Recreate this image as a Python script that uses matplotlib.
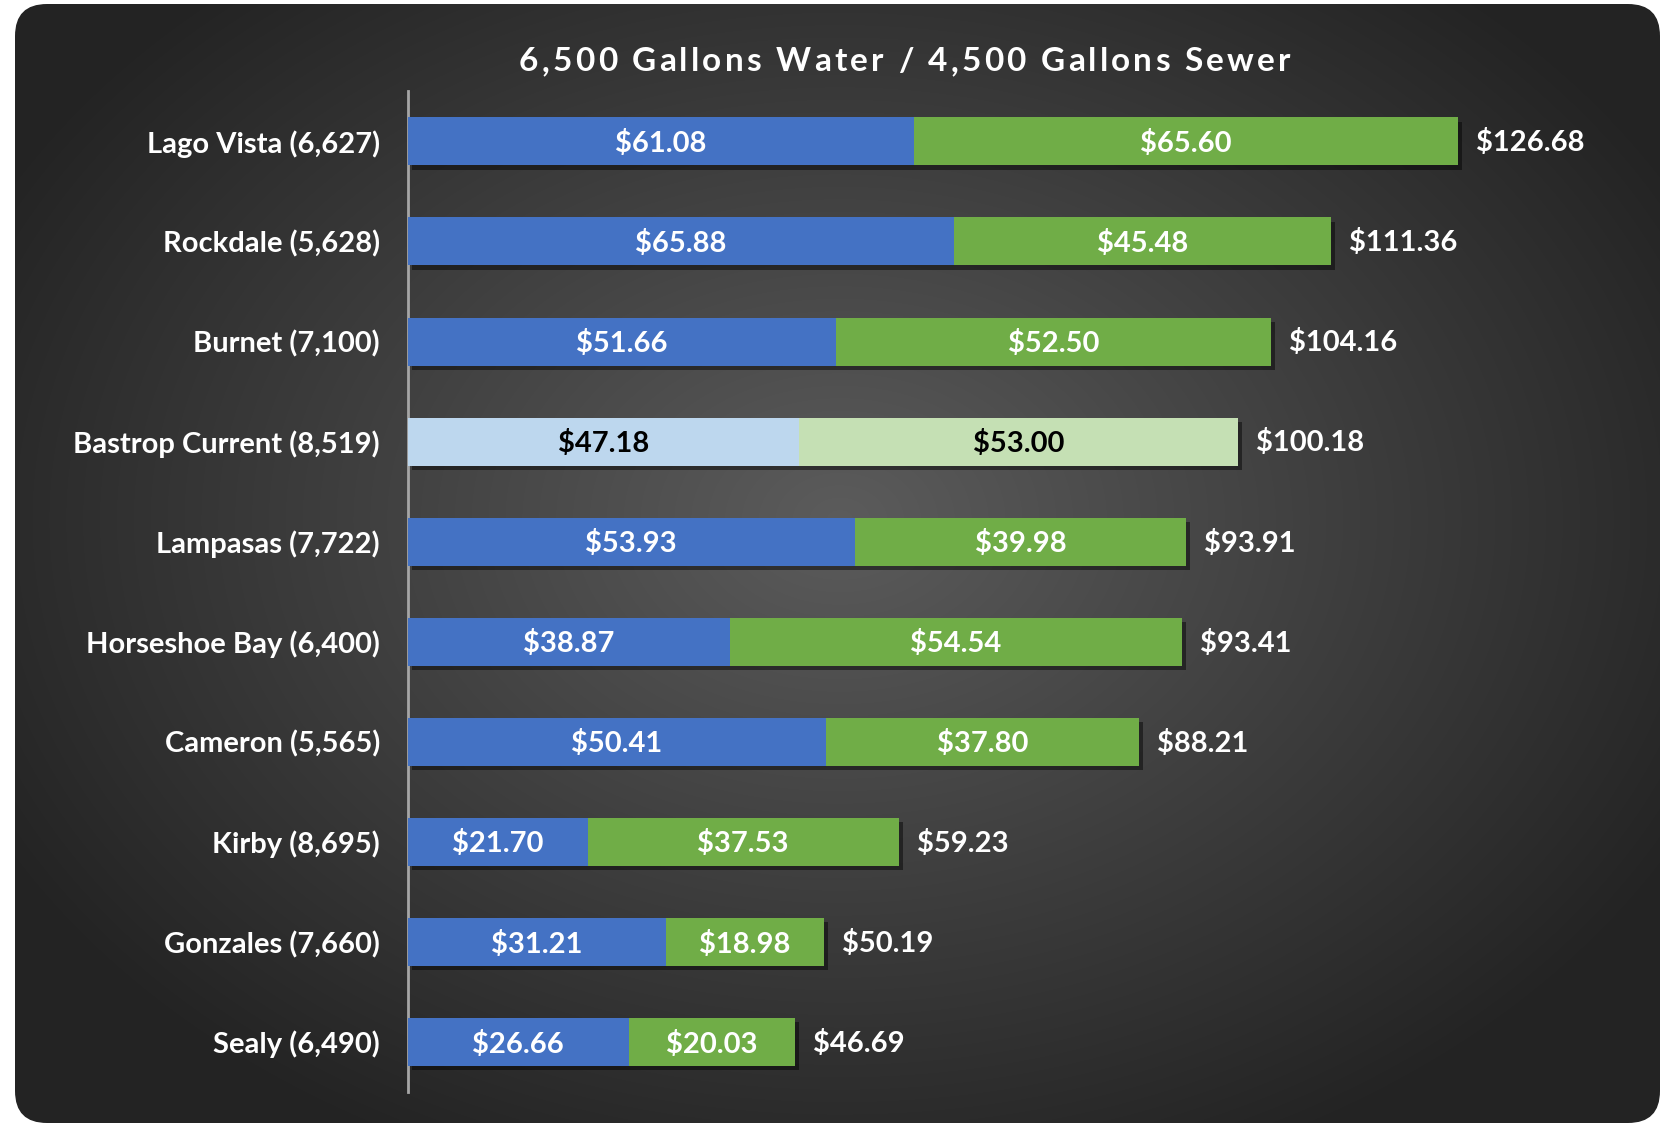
import matplotlib.pyplot as plt
import numpy as np
from matplotlib.patches import FancyBboxPatch
import matplotlib.patheffects as pe

plt.rcParams['font.family'] = ['Lato', 'DejaVu Sans']

# data
cities = ['Lago Vista (6,627)', 'Rockdale (5,628)', 'Burnet (7,100)',
          'Bastrop Current (8,519)', 'Lampasas (7,722)', 'Horseshoe Bay (6,400)',
          'Cameron (5,565)', 'Kirby (8,695)', 'Gonzales (7,660)', 'Sealy (6,490)']
water = [61.08, 65.88, 51.66, 47.18, 53.93, 38.87, 50.41, 21.70, 31.21, 26.66]
sewer = [65.60, 45.48, 52.50, 53.00, 39.98, 54.54, 37.80, 37.53, 18.98, 20.03]
highlight = 'Bastrop Current (8,519)'
title = '6,500 Gallons Water / 4,500 Gallons Sewer'

water = np.array(water)
sewer = np.array(sewer)
total = water + sewer
y = np.arange(len(cities))

W, H = 1665, 1125
fig = plt.figure(figsize=(W / 100, H / 100), dpi=100, facecolor='white')

# dark rounded panel with radial gradient
bg = fig.add_axes([0, 0, 1, 1])
bg.set_axis_off()
bg.set_xlim(0, W)
bg.set_ylim(H, 0)
panel = FancyBboxPatch((15, 4), 1645, 1119, boxstyle='round,pad=0,rounding_size=32',
                       facecolor='none', edgecolor='none')
bg.add_patch(panel)
xx, yy = np.meshgrid(np.linspace(0, W, 400), np.linspace(0, H, 300))
d = np.sqrt(((xx - 840) / 950) ** 2 + ((yy - 520) / 700) ** 2)
d = np.clip(d, 0, 1)
inner = np.array([0.36, 0.36, 0.36])
outer = np.array([0.14, 0.14, 0.14])
img = inner[None, None, :] * (1 - d[..., None]) + outer[None, None, :] * d[..., None]
im = bg.imshow(img, extent=[0, W, H, 0], aspect='auto', interpolation='bilinear')
im.set_clip_path(panel)

# main chart
ax = fig.add_axes([0.2449, 0.0293, 0.7468, 0.8895])
ax.patch.set_alpha(0)

shadow = [pe.SimplePatchShadow(offset=(3, -3), shadow_rgbFace='black', alpha=0.45), pe.Normal()]
fs = 21

for i, name in enumerate(cities):
    hl = name == highlight
    wc = '#BDD7EE' if hl else '#4472C4'
    sc = '#C5E0B4' if hl else '#70AD47'
    tc = 'black' if hl else 'white'
    b1 = ax.barh(y[i], water[i], height=0.48, color=wc, zorder=3)
    b2 = ax.barh(y[i], sewer[i], left=water[i], height=0.48, color=sc, zorder=3)
    for b in list(b1) + list(b2):
        b.set_path_effects(shadow)
    ax.annotate('${:.2f}'.format(water[i]), (water[i] / 2, y[i]), xytext=(0, -1.5),
                textcoords='offset points', ha='center', va='center',
                color=tc, fontsize=fs, fontweight='bold', zorder=4)
    ax.annotate('${:.2f}'.format(sewer[i]), (water[i] + sewer[i] / 2, y[i]), xytext=(0, -1.5),
                textcoords='offset points', ha='center', va='center',
                color=tc, fontsize=fs, fontweight='bold', zorder=4)
    ax.annotate('${:.2f}'.format(total[i]), (total[i], y[i]), xytext=(13, -1),
                textcoords='offset points', ha='left', va='center',
                color='white', fontsize=fs, fontweight='bold')

ax.set_xlim(0, 150)
ax.set_ylim(len(cities) - 0.5, -0.5)
ax.set_yticks(y)
ax.set_yticklabels(cities, fontsize=fs, fontweight='bold', color='white')
ax.tick_params(axis='y', length=0, pad=20)
ax.set_xticks([])
for s in ['top', 'right', 'bottom']:
    ax.spines[s].set_visible(False)
ax.spines['left'].set_color('#a6a6a6')
ax.spines['left'].set_linewidth(2)

# title with letter spacing, one character at a time
renderer = fig.canvas.get_renderer()
tracking = 3.2
widths = []
for ch in title:
    t = fig.text(0, 0, ch if ch != ' ' else 'a a', fontsize=24, fontweight='bold')
    w = t.get_window_extent(renderer).width
    if ch == ' ':
        w = w - 2 * fig.text(0, 0, 'a', fontsize=24, fontweight='bold').get_window_extent(renderer).width
    widths.append(w)
for t in list(fig.texts):
    t.remove()
total_w = sum(widths) + tracking * (len(title) - 1)
x0 = 852 / 1568 * W - total_w / 2
ty = 1 - 58 / 1059
for ch, w in zip(title, widths):
    fig.text(x0 / W, ty, ch, ha='left', va='center', color='white',
             fontsize=24, fontweight='bold')
    x0 += w + tracking

fig.savefig('out.png', dpi=100, facecolor='white')
